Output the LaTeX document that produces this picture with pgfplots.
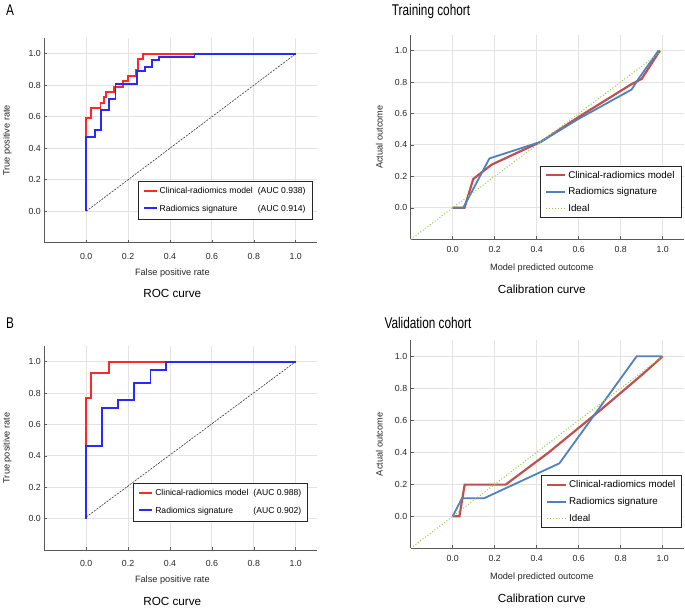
\documentclass[border=0pt]{standalone}
\usepackage{fontspec}
\setmainfont{Liberation Sans}
\usepackage{pgfplots}
\pgfplotsset{compat=1.18}

\definecolor{rocred}{RGB}{255,40,40}
\definecolor{rocblue}{RGB}{40,40,255}
\definecolor{calred}{RGB}{192,80,77}
\definecolor{calblue}{RGB}{79,129,189}
\definecolor{calgreen}{RGB}{155,200,70}

\pgfplotsset{
  panel/.style={
    scale only axis, clip mode=individual,
    axis lines=left,
    axis line style={-, draw=black!65, line width=1pt},
    xmin=-0.2, xmax=1.1, ymin=-0.2, ymax=1.1,
    xtick={0,0.2,0.4,0.6,0.8,1}, ytick={0,0.2,0.4,0.6,0.8,1},
    grid=major, grid style={black!11, line width=0.9pt},
    tick align=inside, major tick length=3pt,
    tick style={black!65, line width=0.6pt},
    /pgf/number format/.cd, fixed, fixed zerofill, precision=1, assume math mode=true,
    /pgfplots/.cd,
    ticklabel style={font=\fontsize{8.8}{10}\selectfont, text=black!85},
    label style={font=\fontsize{9.2}{10}\selectfont, text=black!85},
    legend cell align=left,
    legend style={draw=black!85, line width=1pt, fill=white, anchor=north west},
  },
  roc/.style={panel,
    xlabel={False positive rate}, ylabel={True positive rate},
    xticklabel style={yshift=-7pt},
    xlabel style={at={(axis description cs:0.47,0)}, anchor=center, yshift=-30.5pt},
    ylabel style={at={([xshift=-37pt]axis description cs:0,0.5)}, anchor=center},
    legend style={font=\fontsize{8.6}{10}\selectfont, inner xsep=4.5pt, inner ysep=4.5pt, row sep=5.5pt},
    legend image code/.code={\draw[##1] (0pt,0.5pt) -- (13pt,0.5pt);},
  },
  cal/.style={panel,
    xlabel={Model predicted outcome}, ylabel={Actual outcome},
    xticklabel style={yshift=-4pt},
    xlabel style={at={(axis description cs:0.48,0)}, anchor=center, yshift=-29pt},
    ylabel style={at={([xshift=-31.4pt]axis description cs:0,0.5)}, anchor=center},
    legend style={font=\fontsize{9.8}{11}\selectfont, inner xsep=4.5pt, inner ysep=3pt, row sep=4pt},
    legend image code/.code={\draw[##1] (0pt,0pt) -- (19pt,0pt);},
  },
}
\newcommand{\aucentry}[2]{\makebox[146pt][l]{#1\hfill(AUC #2)}}
\newcommand{\narrow}[1]{\scalebox{0.76}[1]{#1}}

\begin{document}
\begin{tikzpicture}[x=1pt,y=1pt]
\path[use as bounding box] (0,0) rectangle (685,608);

\node[font=\fontsize{15.5}{16}\selectfont] at (10,598) {\narrow{A}};
\node[font=\fontsize{15.5}{16}\selectfont] at (431,597) {\narrow{Training cohort}};
\node[font=\fontsize{15.5}{16}\selectfont] at (10,285) {\narrow{B}};
\node[font=\fontsize{15.5}{16}\selectfont] at (428,285) {\narrow{Validation cohort}};

% ---- training ROC
\begin{axis}[roc, at={(44.3pt,365.3pt)}, anchor=south west, width=272.4pt, height=204.7pt,
  legend style={at={(0.343,0.303)}}]
\addplot[draw=rocred, line width=1.9pt] coordinates {
 (0,0)(0,0.59)(0.024,0.59)(0.024,0.655)(0.068,0.655)(0.068,0.689)(0.083,0.689)(0.083,0.725)
 (0.095,0.725)(0.095,0.759)(0.132,0.759)(0.132,0.791)(0.175,0.791)(0.175,0.826)(0.199,0.826)
 (0.199,0.858)(0.236,0.858)(0.236,0.896)(0.247,0.896)(0.247,0.964)(0.271,0.964)(0.271,1)(1,1)};
\addplot[draw=rocblue, line width=1.9pt] coordinates {
 (0,0)(0,0.471)(0.040,0.471)(0.040,0.516)(0.072,0.516)(0.072,0.643)(0.107,0.643)(0.107,0.715)
 (0.14,0.715)(0.14,0.81)(0.244,0.81)(0.244,0.888)(0.279,0.888)(0.279,0.913)(0.314,0.913)
 (0.314,0.958)(0.347,0.958)(0.347,0.981)(0.517,0.981)(0.517,1)(1,1)};
\addplot[draw=black!80, line width=0.6pt, dash pattern=on 2pt off 1.2pt] coordinates {(0,0)(1,1)};
\legend{\aucentry{Clinical-radiomics model}{0.938}, \aucentry{Radiomics signature}{0.914}}
\node[font=\fontsize{11.7}{13}\selectfont] at (axis description cs:0.47,0) [yshift=-51pt] {ROC curve};
\end{axis}

% ---- training calibration
\begin{axis}[cal, at={(410.7pt,368.7pt)}, anchor=south west, width=273pt, height=204.5pt,
  legend style={at={(0.474,0.3605)}}]
\addplot[draw=calred, line width=2.2pt] coordinates {
 (0,0)(0.056,0)(0.098,0.184)(0.186,0.275)(0.42,0.42)(0.6,0.578)(0.85,0.785)(0.9,0.82)(0.987,1.0)};
\addplot[draw=calblue, line width=1.8pt] coordinates {
 (0,0)(0.05,0)(0.175,0.314)(0.42,0.42)(0.6,0.566)(0.852,0.752)(0.89,0.83)(0.98,1.0)};
\addplot[draw=calgreen, line width=1pt, dotted] coordinates {(-0.2,-0.2)(1,1)};
\legend{Clinical-radiomics model, Radiomics signature, Ideal}
\node[font=\fontsize{11.7}{13}\selectfont] at (axis description cs:0.48,0) [yshift=-50pt] {Calibration curve};
\end{axis}

% ---- validation ROC
\begin{axis}[roc, at={(44.3pt,58pt)}, anchor=south west, width=272.4pt, height=204.1pt,
  legend style={at={(0.327,0.33)}}]
\addplot[draw=rocred, line width=1.9pt] coordinates {
 (0,0.01)(0,0.771)(0.024,0.771)(0.024,0.925)(0.107,0.925)(0.107,1)(1,1)};
\addplot[draw=rocblue, line width=1.9pt] coordinates {
 (0,0)(0,0.465)(0.075,0.465)(0.075,0.703)(0.151,0.703)(0.151,0.756)(0.229,0.756)(0.229,0.864)
 (0.307,0.864)(0.307,0.945)(0.382,0.945)(0.382,1)(1,1)};
\addplot[draw=black!80, line width=0.6pt, dash pattern=on 2pt off 1.2pt] coordinates {(0,0.01)(1,1)};
\legend{\aucentry{Clinical-radiomics model}{0.988}, \aucentry{Radiomics signature}{0.902}}
\node[font=\fontsize{11.7}{13}\selectfont] at (axis description cs:0.47,0) [yshift=-51.7pt] {ROC curve};
\end{axis}

% ---- validation calibration
\begin{axis}[cal, at={(410.7pt,59.7pt)}, anchor=south west, width=273pt, height=208pt,
  legend style={at={(0.477,0.351)}}]
\addplot[draw=calred, line width=2.2pt] coordinates {
 (0,0)(0.032,0)(0.057,0.198)(0.252,0.198)(0.456,0.398)(0.7,0.66)(0.9,0.883)(1,1)};
\addplot[draw=calblue, line width=1.8pt] coordinates {
 (0,0)(0.044,0.1125)(0.149,0.1125)(0.508,0.331)(0.876,1.0)(0.995,1.0)};
\addplot[draw=calgreen, line width=1pt, dotted] coordinates {(-0.2,-0.2)(1,1)};
\legend{Clinical-radiomics model, Radiomics signature, Ideal}
\node[font=\fontsize{11.7}{13}\selectfont] at (axis description cs:0.48,0) [yshift=-50pt] {Calibration curve};
\end{axis}
\end{tikzpicture}
\end{document}
